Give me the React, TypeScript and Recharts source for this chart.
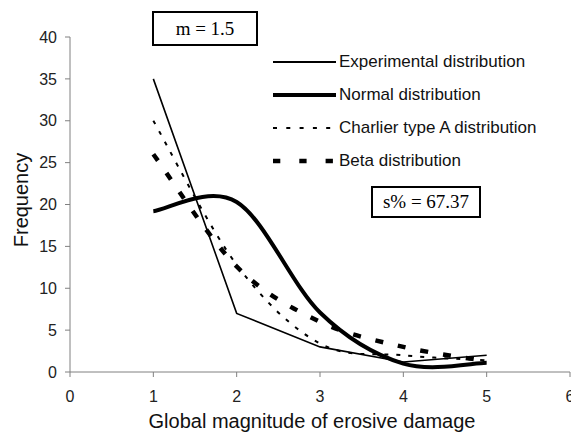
import { LineChart, Line, XAxis, YAxis } from "recharts";

const magnitudes = [1, 2, 3, 4, 5];
const experimental = [35, 7, 3, 1.2, 2];
const normal = [19.2, 20.3, 7.1, 1.0, 1.1];
const charlier = [30, 12.8, 3.4, 2, 1.4];
const beta = [26, 12.6, 6, 3, 1.3];

const xTicks = [0, 1, 2, 3, 4, 5, 6];
const yTicks = [0, 5, 10, 15, 20, 25, 30, 35, 40];

const data = magnitudes.map((m, i) => ({
  m,
  experimental: experimental[i],
  normal: normal[i],
  charlier: charlier[i],
  beta: beta[i],
}));

// Excel-like smoothed line (Catmull-Rom as cubic beziers)
const excelCurve = (context: any) => {
  let pts: number[][] = [];
  return {
    areaStart() {},
    areaEnd() {},
    lineStart() {
      pts = [];
    },
    point(x: number, y: number) {
      pts.push([+x, +y]);
    },
    lineEnd() {
      const n = pts.length;
      if (!n) return;
      context.moveTo(pts[0][0], pts[0][1]);
      for (let i = 0; i < n - 1; i++) {
        const p0 = pts[i - 1] || pts[i];
        const p1 = pts[i];
        const p2 = pts[i + 1];
        const p3 = pts[i + 2] || pts[i + 1];
        context.bezierCurveTo(
          p1[0] + (p2[0] - p0[0]) / 6,
          p1[1] + (p2[1] - p0[1]) / 6,
          p2[0] - (p3[0] - p1[0]) / 6,
          p2[1] - (p3[1] - p1[1]) / 6,
          p2[0],
          p2[1]
        );
      }
    },
  };
};

const series = [
  { key: "experimental", name: "Experimental distribution", width: 1.6, dash: undefined, legendWidth: 2, legendDash: undefined, smooth: false },
  { key: "normal", name: "Normal distribution", width: 4, dash: undefined, legendWidth: 4, legendDash: undefined, smooth: true },
  { key: "charlier", name: "Charlier type A distribution", width: 2, dash: "4 8", legendWidth: 2, legendDash: "4 9.3", smooth: true },
  { key: "beta", name: "Beta distribution", width: 4.5, dash: "8 15", legendWidth: 4.5, legendDash: "7.3 19", smooth: true },
];

const font = "'Liberation Sans', Arial, sans-serif";
const axisColor = "#808080";

const boxStyle = {
  position: "absolute" as const,
  border: "2px solid #000",
  fontFamily: "'Liberation Serif', 'Times New Roman', serif",
  fontSize: 19,
  color: "#000",
  boxSizing: "border-box" as const,
  display: "flex",
  alignItems: "center",
  justifyContent: "center",
  background: "#fff",
};

export default function App() {
  return (
    <div style={{ position: "absolute", left: 0, top: 0, width: 571, height: 434, background: "#fff", overflow: "hidden" }}>
      <LineChart
        width={571}
        height={434}
        data={data}
        margin={{ top: 37, right: 1, bottom: 32, left: 10 }}
      >
        <XAxis
          dataKey="m"
          type="number"
          domain={[0, 6]}
          ticks={xTicks}
          interval={0}
          height={30}
          stroke={axisColor}
          tickSize={5}
          tickMargin={14}
          tick={{ fill: "#222", fontSize: 16, fontFamily: font }}
        />
        <YAxis
          type="number"
          domain={[0, 40]}
          ticks={yTicks}
          interval={0}
          width={60}
          stroke={axisColor}
          tickSize={5}
          tickMargin={8}
          tick={{ fill: "#222", fontSize: 16, fontFamily: font }}
        />
        {series.map((s) => (
          <Line
            key={s.key}
            dataKey={s.key}
            name={s.name}
            type={s.smooth ? (excelCurve as any) : "linear"}
            stroke="#000"
            strokeWidth={s.width}
            strokeDasharray={s.dash}
            dot={false}
            activeDot={false}
            isAnimationActive={false}
          />
        ))}
      </LineChart>

      <div style={{ position: "absolute", left: 271, top: 45, fontFamily: font, fontSize: 17, color: "#111" }}>
        {series.map((s) => (
          <div key={s.key} style={{ display: "flex", alignItems: "center", height: 33 }}>
            <svg width={68} height={10}>
              <line
                x1={2}
                x2={65}
                y1={5}
                y2={5}
                stroke="#000"
                strokeWidth={s.legendWidth}
                strokeDasharray={s.legendDash}
              />
            </svg>
            <span>{s.name}</span>
          </div>
        ))}
      </div>

      <div style={{ ...boxStyle, left: 152, top: 11, width: 106, height: 35 }}>m = 1.5</div>
      <div style={{ ...boxStyle, left: 371, top: 186, width: 110, height: 32 }}>s% = 67.37</div>
      <div
        style={{
          position: "absolute",
          left: 21,
          top: 200,
          transform: "translate(-50%, -50%) rotate(-90deg)",
          fontFamily: font,
          fontSize: 20,
          color: "#111",
          whiteSpace: "nowrap",
        }}
      >
        Frequency
      </div>
      <div
        style={{
          position: "absolute",
          left: 312,
          top: 421,
          transform: "translate(-50%, -50%)",
          fontFamily: font,
          fontSize: 20,
          color: "#111",
          whiteSpace: "nowrap",
        }}
      >
        Global magnitude of erosive damage
      </div>
    </div>
  );
}
